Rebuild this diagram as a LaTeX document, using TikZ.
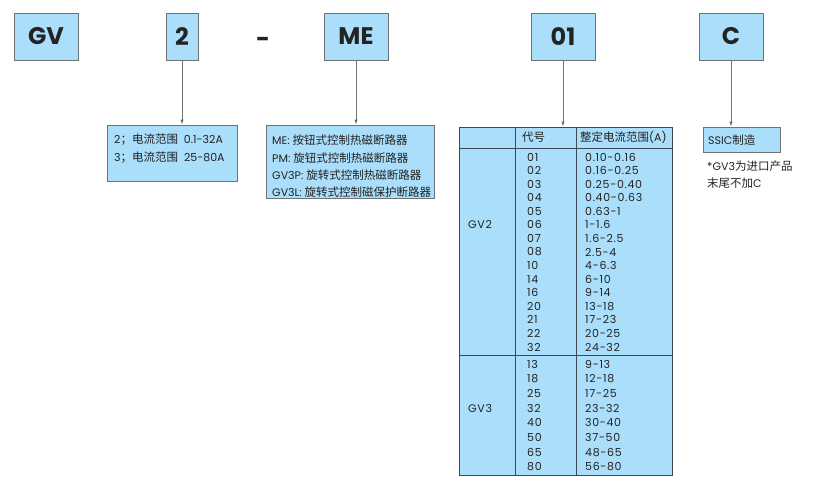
\documentclass[tikz,border=0pt]{standalone}
\usepackage{fontspec}
\setmainfont{Poppins}
\newfontfamily\cjkfam{Noto Sans CJK SC}
\newfontfamily\widefam[LetterSpace=6]{Poppins}
\newcommand{\zh}[1]{{\cjkfam\fontsize{11.5}{11.5}\selectfont #1}}
\usetikzlibrary{arrows.meta}
\definecolor{boxfill}{RGB}{170,222,250}
\definecolor{boxline}{RGB}{110,115,120}
\definecolor{tabline}{RGB}{60,72,82}
\definecolor{txt}{RGB}{35,35,35}
\begin{document}
\begin{tikzpicture}[x=1pt,y=-1pt,
  topbox/.style={draw=boxline,fill=boxfill,line width=0.8pt,inner sep=0pt},
  toptext/.style={font=\fontsize{24}{24}\selectfont\bfseries,text=txt},
  infobox/.style={draw=boxline,fill=boxfill,line width=0.8pt,inner sep=0pt},
  small/.style={font=\fontsize{11}{11}\selectfont,text=txt,anchor=west,inner sep=0pt},
  tabtext/.style={small,font=\widefam\fontsize{11}{11}\selectfont},
  conn/.style={draw=boxline,line width=0.8pt,-{Latex[length=5pt,width=3.5pt]}},
  tab/.style={draw=tabline,line width=0.9pt}]
\useasboundingbox (0,0) rectangle (820,485);
% top boxes
\node[topbox,minimum width=64pt,minimum height=47pt] (gv) at (46,36.5) {};
\node[toptext] at (gv.center) {GV};
\node[topbox,minimum width=32pt,minimum height=47pt] (two) at (182,36.5) {};
\node[toptext] at (two.center) {2};
\node[toptext] (dash) at (263,42) {-};
\node[topbox,minimum width=64pt,minimum height=47pt] (me) at (356,36.5) {};
\node[toptext] at (me.center) {ME};
\node[topbox,minimum width=64pt,minimum height=47pt] (o1) at (563,36.5) {};
\node[toptext] at (o1.center) {01};
\node[topbox,minimum width=64pt,minimum height=47pt] (c) at (731,36.5) {};
\node[toptext] at (c.center) {C};
% box 1
\node[infobox,minimum width=130pt,minimum height=56pt] (b1) at (172,153) {};
\node[small] (b1a) at (114,140) {2\zh{；电流范围}\ \ 0.1-32A};
\node[small] (b1b) at (114,158) {3\zh{；电流范围}\ \ 25-80A};
% box 2
\node[infobox,minimum width=168pt,minimum height=73pt] (b2) at (350,161.5) {};
\node[small] (b2a) at (272,140) {ME: \zh{按钮式控制热磁断路器}};
\node[small] (b2b) at (272,158) {PM: \zh{旋钮式控制热磁断路器}};
\node[small] (b2c) at (272,175) {GV3P: \zh{旋转式控制热磁断路器}};
\node[small] (b2d) at (272,192) {GV3L: \zh{旋转式控制磁保护断路器}};
% table
\node[infobox,draw=tabline,line width=0.9pt,minimum width=213pt,minimum height=348pt] (tbl) at (565.5,301) {};
\coordinate (c1t) at (515,127);
\coordinate (c1b) at (515,475);
\coordinate (c2t) at (576,127);
\coordinate (c2b) at (576,475);
\coordinate (h1l) at (459,148);
\coordinate (h1r) at (672,148);
\coordinate (h2l) at (459,355);
\coordinate (h2r) at (672,355);
\draw[tab] (c1t) -- (c1b);
\draw[tab] (c2t) -- (c2b);
\draw[tab] (h1l) -- (h1r);
\draw[tab] (h2l) -- (h2r);
\node[small] (hcode) at (522,137.5) {\zh{代号}};
\node[small] (hrange) at (580,137.5) {\zh{整定电流范围}(A)};
\node[tabtext] (gv2) at (468,224) {GV2};
\node[tabtext] (gv3) at (468,408) {GV3};
\foreach \code/\range [count=\i] in {01/0.10-0.16,02/0.16-0.25,03/0.25-0.40,04/0.40-0.63,05/0.63-1,06/1-1.6,07/1.6-2.5,08/2.5-4,10/4-6.3,14/6-10,16/9-14,20/13-18,21/17-23,22/20-25,32/24-32}{
  \node[tabtext] (ca\i) at (527,{157+(\i-1)*13.57}) {\code};
  \node[tabtext] (ra\i) at (585,{157+(\i-1)*13.57}) {\range};
}
\foreach \code/\range [count=\i] in {13/9-13,18/12-18,25/17-25,32/23-32,40/30-40,50/37-50,65/48-65,80/56-80}{
  \node[tabtext] (cb\i) at (527,{364+(\i-1)*14.7}) {\code};
  \node[tabtext] (rb\i) at (585,{364+(\i-1)*14.7}) {\range};
}
% SSIC box
\node[infobox,minimum width=77pt,minimum height=25pt] (ss) at (741.5,139.5) {};
\node[small] (sst) at (708,140) {SSIC\zh{制造}};
\node[small] (n1) at (707,166) {*GV3\zh{为进口产品}};
\node[small] (n2) at (707,183) {\zh{末尾不加}C};
% connectors
\draw[conn] (two.south) -- (b1.north -| two.south);
\draw[conn] (me.south) -- (b2.north -| me.south);
\draw[conn] (o1.south) -- (tbl.north -| o1.south);
\draw[conn] (c.south) -- (ss.north -| c.south);
\end{tikzpicture}
\end{document}
